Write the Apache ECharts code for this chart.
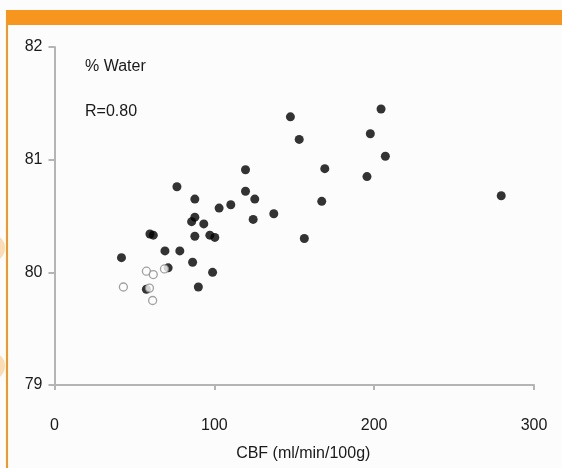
<!DOCTYPE html>
<html>
<head>
<meta charset="utf-8">
<script src="https://cdn.jsdelivr.net/npm/echarts@6/dist/echarts.min.js"></script>
<style>
  html, body { margin: 0; padding: 0; background: #fcfcfc; }
  #chart { width: 562px; height: 468px; }
</style>
</head>
<body>
<div id="chart"></div>
<script>
// CBF (ml/min/100g) vs % water, filled dots
var filledCbf = [41.9, 59.7, 61.8, 69.1, 78.4, 71.1, 76.6, 86.4, 87.8, 87.8, 85.8, 87.8,
  90.0, 93.4, 97.2, 100.3, 98.9, 103.0, 110.3, 119.5, 119.5, 124.3, 125.3, 137.2,
  147.6, 153.1, 156.3, 167.2, 169.1, 195.5, 197.6, 204.3, 207.0, 279.5, 57.5];
var filledWater = [80.13, 80.34, 80.33, 80.19, 80.19, 80.04, 80.76, 80.09, 80.65, 80.49, 80.45, 80.32,
  79.87, 80.43, 80.33, 80.31, 80.00, 80.57, 80.60, 80.91, 80.72, 80.47, 80.65, 80.52,
  81.38, 81.18, 80.30, 80.63, 80.92, 80.85, 81.23, 81.45, 81.03, 80.68, 79.85];

// open circles
var openCbf = [43.1, 57.5, 61.8, 68.8, 59.4, 61.4];
var openWater = [79.87, 80.01, 79.98, 80.03, 79.86, 79.75];

var xTicks = [0, 100, 200, 300];
var yTicks = [79, 80, 81, 82];

function pairs(xs, ys) {
  return xs.map(function (x, i) { return [x, ys[i]]; });
}

var chart = echarts.init(document.getElementById('chart'));
var axisGray = '#b4b4b4';
var font = 'Liberation Sans';
var txt = '#1a1a1a';
var orange = '#f7961e';

var option = {
  backgroundColor: '#fcfcfc',
  animation: false,
  grid: { left: 54.5, right: 28, top: 47, bottom: 83 },
  title: [
    { text: '% Water', left: 80, top: 54, textStyle: { fontFamily: font, fontSize: 16, fontWeight: 'normal', color: txt } },
    { text: 'R=0.80', left: 80, top: 99, textStyle: { fontFamily: font, fontSize: 16, fontWeight: 'normal', color: txt } }
  ],
  graphic: [
    { type: 'rect', left: 6, top: 10, shape: { width: 556, height: 15 }, style: { fill: orange } },
    { type: 'rect', left: 6, top: 10, shape: { width: 2, height: 458 }, style: { fill: orange } },
    { type: 'circle', shape: { cx: -9, cy: 248, r: 14 }, style: { fill: '#fcdcb4' } },
    { type: 'circle', shape: { cx: -9, cy: 366, r: 14 }, style: { fill: '#fcdcb4' } }
  ],
  xAxis: {
    type: 'value',
    min: xTicks[0],
    max: xTicks[xTicks.length - 1],
    interval: 100,
    name: 'CBF (ml/min/100g)',
    nameLocation: 'middle',
    nameGap: 61,
    nameTextStyle: { fontFamily: font, fontSize: 16, color: txt, padding: [0, 0, 0, 18] },
    axisLine: { lineStyle: { color: axisGray, width: 2 } },
    axisTick: { length: 5, lineStyle: { color: axisGray, width: 2 } },
    axisLabel: { margin: 33, fontFamily: font, fontSize: 16, color: txt },
    splitLine: { show: false }
  },
  yAxis: {
    type: 'value',
    min: yTicks[0],
    max: yTicks[yTicks.length - 1],
    interval: 1,
    axisLine: { show: true, lineStyle: { color: axisGray, width: 2 } },
    axisTick: { show: true, length: 6, lineStyle: { color: axisGray, width: 2 } },
    axisLabel: { margin: 12, fontFamily: font, fontSize: 16, color: txt },
    splitLine: { show: false }
  },
  series: [
    {
      type: 'scatter',
      data: pairs(filledCbf, filledWater),
      symbol: 'circle',
      symbolSize: 9,
      itemStyle: { color: '#000' }
    },
    {
      type: 'scatter',
      data: pairs(openCbf, openWater),
      symbol: 'circle',
      symbolSize: 8,
      itemStyle: { color: '#fcfcfc', borderColor: '#8a8a8a', borderWidth: 1.3 }
    }
  ]
};

chart.setOption(option);
</script>
</body>
</html>
